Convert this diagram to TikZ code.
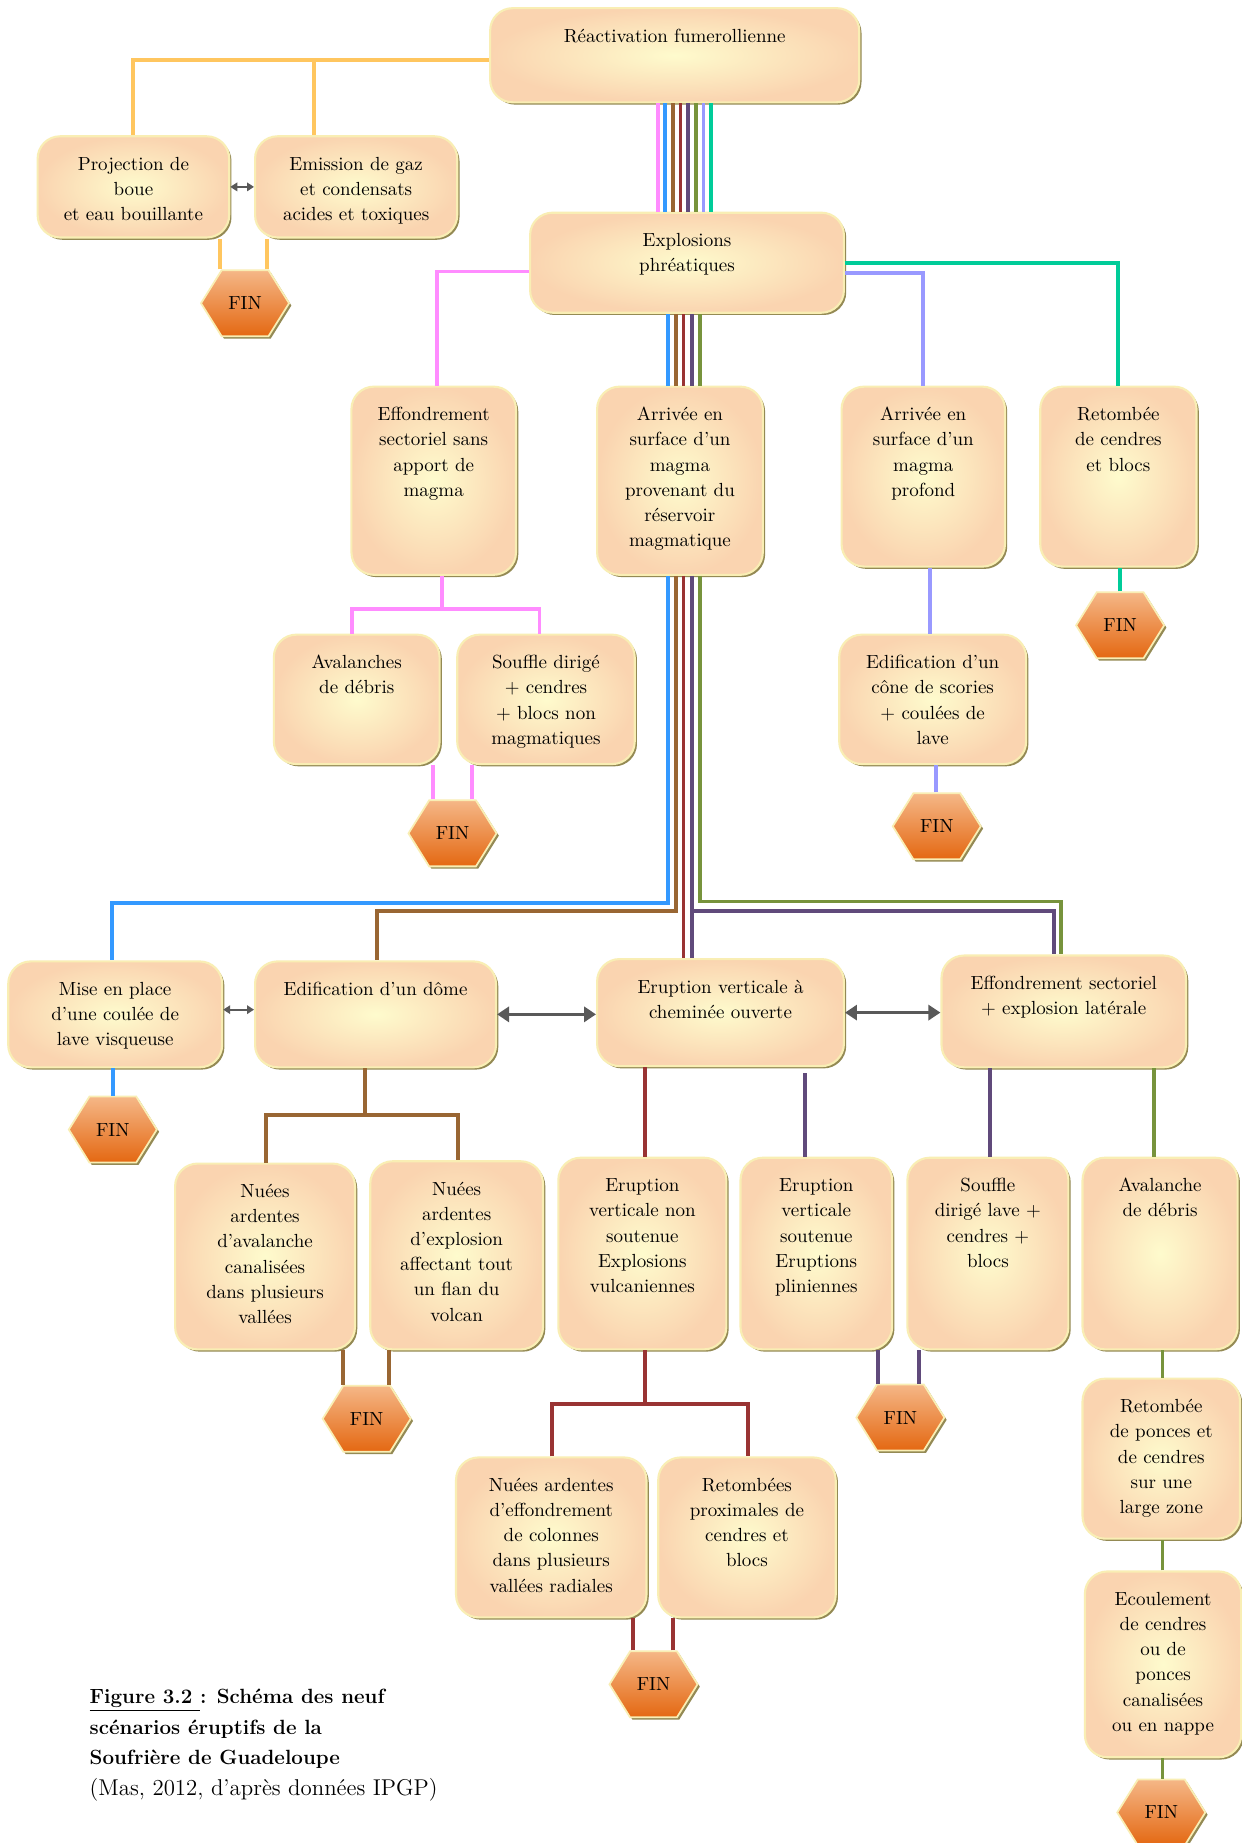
\documentclass[tikz,border=0pt]{standalone}
\usepackage{tikz}
\usetikzlibrary{calc,positioning,shapes.symbols,shadows,arrows.meta}
\tikzset{>=Stealth}
\definecolor{boxin}{RGB}{254,251,205}
\definecolor{boxout}{RGB}{250,212,176}
\definecolor{boxrim}{RGB}{249,238,180}
\definecolor{boxshade}{RGB}{148,138,84}
\definecolor{fintop}{RGB}{245,183,135}
\definecolor{finbot}{RGB}{228,104,18}
\definecolor{orgc}{RGB}{255,198,95}
\definecolor{pinkc}{RGB}{255,140,255}
\definecolor{bluec}{RGB}{51,153,255}
\definecolor{brownc}{RGB}{153,102,51}
\definecolor{redc}{RGB}{153,51,51}
\definecolor{purc}{RGB}{96,74,123}
\definecolor{olivec}{RGB}{119,147,60}
\definecolor{lavc}{RGB}{153,153,255}
\definecolor{tealc}{RGB}{0,204,153}
\definecolor{arrgray}{RGB}{89,89,89}
\newdimen\diagu \diagu=0.0235cm
\tikzset{
  stepbox/.style 2 args={draw=boxrim, line width=1.2pt, rounded corners=0.45cm,
    inner color=boxin, outer color=boxout,
    drop shadow={shadow xshift=1.3pt, shadow yshift=-1.3pt, fill=boxshade, opacity=1},
    inner xsep=0pt, inner ysep=0.33cm,
    minimum width={#1*0.0235cm}, minimum height={#2*0.0235cm},
    font=\fontsize{10.8}{14.3}\selectfont,
    execute at begin node={\begin{minipage}[t][\dimexpr#2\diagu-28\diagu\relax][t]{\dimexpr#1\diagu-8pt\relax}\centering\strut},
    execute at end node={\end{minipage}}},
  finhex/.style={shape=signal, signal to=west and east, signal pointer angle=116,
    minimum width=1.76cm, minimum height=1.32cm, inner sep=0pt,
    top color=fintop, bottom color=finbot, draw=boxrim, line width=1pt,
    drop shadow={shadow xshift=1.3pt, shadow yshift=-1.3pt, fill=boxshade, opacity=1},
    font=\fontsize{10.8}{13}\selectfont},
  link/.style={line width=2.2pt},
  dblarrow/.style={arrgray, line width=1.9pt, {Triangle[length=0.24cm,width=0.3cm]}-{Triangle[length=0.24cm,width=0.3cm]}},
  smallarrow/.style={arrgray, line width=1.3pt, {Triangle[length=0.14cm,width=0.17cm]}-{Triangle[length=0.14cm,width=0.17cm]}}
}
\begin{document}
\begin{tikzpicture}[x=0.0235cm, y=-0.0235cm]
\path[use as bounding box, fill=white] (0,0) rectangle (1056,1568);

\node[stepbox={314}{80}] (R) at (574,47) {Réactivation fumerollienne};
\node[stepbox={163}{86}] (P) at (113.5,159) {Projection de\\boue\\et eau bouillante};
\node[stepbox={172}{86}] (E) at (303,159) {Emission de gaz\\et condensats\\acides et toxiques};
\node[stepbox={267}{85}] (X) at (584.5,223.5) {Explosions\\phréatiques};
\node[stepbox={140}{160}] (EF) at (369,409) {Effondrement\\sectoriel sans\\apport de\\magma};
\node[stepbox={141}{160}] (AM) at (578.5,409) {Arrivée en\\surface d’un\\magma\\provenant du\\réservoir\\magmatique};
\node[stepbox={139}{153}] (AP) at (785.5,405.5) {Arrivée en\\surface d’un\\magma\\profond};
\node[stepbox={133}{153}] (RC) at (951.5,405.5) {Retombée\\de cendres\\et blocs};
\node[stepbox={141}{110}] (AV) at (303.5,595) {Avalanches\\de débris};
\node[stepbox={151}{110}] (SD) at (464.5,595) {Souffle dirigé\\+ cendres\\+ blocs non\\magmatiques};
\node[stepbox={159}{110}] (ED) at (793.5,595) {Edification d’un\\cône de scories\\+ coulées de\\lave};
\node[stepbox={182}{90}] (MP) at (98,863) {Mise en place\\d’une coulée de\\lave visqueuse};
\node[stepbox={205}{90}] (DO) at (319.5,863) {Edification d’un dôme};
\node[stepbox={210}{91}] (EV) at (613,861.5) {Eruption verticale à\\cheminée ouverte};
\node[stepbox={208}{95}] (ES) at (905,860.5) {Effondrement sectoriel\\+ explosion latérale};
\node[stepbox={153}{158}] (NA) at (225.5,1069) {Nuées\\ardentes\\d’avalanche\\canalisées\\dans plusieurs\\vallées};
\node[stepbox={147}{160}] (NE) at (388.5,1068) {Nuées\\ardentes\\d’explosion\\affectant tout\\un flan du\\volcan};
\node[stepbox={143}{163}] (EN) at (546.5,1066.5) {Eruption\\verticale non\\soutenue\\Explosions\\vulcaniennes};
\node[stepbox={129}{163}] (SO) at (694.5,1066.5) {Eruption\\verticale\\soutenue\\Eruptions\\pliniennes};
\node[stepbox={137}{163}] (SF) at (840.5,1066.5) {Souffle\\dirigé lave +\\cendres +\\blocs};
\node[stepbox={132}{163}] (AD) at (987,1066.5) {Avalanche\\de débris};
\node[stepbox={162}{136}] (NC) at (469,1308) {Nuées ardentes\\d’effondrement\\de colonnes\\dans plusieurs\\vallées radiales};
\node[stepbox={151}{136}] (RP) at (635.5,1308) {Retombées\\proximales de\\cendres et\\blocs};
\node[stepbox={134}{136}] (RZ) at (988,1241) {Retombée\\de ponces et\\de cendres\\sur une\\large zone};
\node[stepbox={133}{158}] (EC) at (989.5,1416) {Ecoulement\\de cendres\\ou de\\ponces\\canalisées\\ou en nappe};

\node[finhex] (F1) at (208.5,258) {FIN};
\node[finhex] (F2) at (953,532) {FIN};
\node[finhex] (F3) at (385,709) {FIN};
\node[finhex] (F4) at (797,703) {FIN};
\node[finhex] (F5) at (96,961) {FIN};
\node[finhex] (F6) at (312,1207) {FIN};
\node[finhex] (F7) at (766,1206) {FIN};
\node[finhex] (F8) at (556,1433) {FIN};
\node[finhex] (F9) at (988,1542) {FIN};

\draw[link, orgc] ($(R.west)+(0,4)$) -| (P.north);
\draw[link, orgc] ($(E.north)+(-36,0)$) |- ($(R.west)+(0,4)$);
\draw[link, orgc] ($(F1.north)+(-21,0)$) -- ($(F1.north |- P.south)+(-21,0)$);
\draw[link, orgc] ($(F1.north)+(19,0)$) -- ($(F1.north |- E.south)+(19,0)$);
\draw[smallarrow] (P.east) -- (E.west);

\foreach \col [count=\k from 0] in {pinkc,bluec,brownc,redc,purc,olivec,lavc,tealc}
  \draw[link, \col] ($(R.south)+(-14.5+6.5*\k,0)$) -- ($(R.south |- X.north)+(-14.5+6.5*\k,0)$);
\foreach \col/\dx in {bluec/-10,brownc/-3.5,redc/3,purc/10,olivec/17}
  \draw[link, \col] ($(AM.north)+(\dx,0)$) -- ($(AM.north |- X.south)+(\dx,0)$);

\draw[link, pinkc] ($(X.west)+(0,7.5)$) -| ($(EF.north)+(3,0)$);
\draw[link, lavc] ($(X.east)+(0,8.5)$) -| (AP.north);
\draw[link, tealc] (X.east) -| (RC.north);

\draw[link, pinkc] ($(EF.south)+(7,0)$) -- ++(0,30);
\draw[link, pinkc] ($(AV.north)+(-4,0)$) -- ++(0,-21) -| ($(SD.north)+(-5.5,0)$);
\draw[link, pinkc] ($(F3.north)+(-16.5,0)$) -- ($(F3.north |- AV.south)+(-16.5,0)$);
\draw[link, pinkc] ($(F3.north)+(16.5,0)$) -- ($(F3.north |- SD.south)+(16.5,0)$);
\draw[link, lavc] ($(ED.north)+(-2.5,0)$) -- ($(ED.north |- AP.south)+(-2.5,0)$);
\draw[link, lavc] ($(F4.north)+(-1,0)$) -- ($(F4.north |- ED.south)+(-1,0)$);
\draw[link, tealc] (F2.north) -- (F2.north |- RC.south);

\draw[link, bluec] ($(AM.south)+(-10,0)$) -- ++(0,278) -| ($(MP.north)+(-3,0)$);
\draw[link, brownc] ($(AM.south)+(-3.5,0)$) -- ++(0,285) -| ($(DO.north)+(1.5,0)$);
\draw[link, redc] ($(AM.south)+(3,0)$) -- ($(AM.south |- EV.north)+(3,0)$);
\draw[link, purc] ($(AM.south)+(10,0)$) -- ($(AM.south |- EV.north)+(10,0)$);
\draw[link, purc] ($(AM.south)+(10,285)$) -| ($(ES.north)+(-8,0)$);
\draw[link, olivec] ($(AM.south)+(17,0)$) -- ++(0,277) -| ($(ES.north)+(-2,0)$);

\draw[smallarrow] ($(MP.east)+(0,-4)$) -- ($(MP.east -| DO.west)+(0,-4)$);
\draw[dblarrow] (DO.east) -- (DO.east -| EV.west);
\draw[dblarrow] (EV.east) -- (EV.east -| ES.west);

\draw[link, bluec] (F5.north) -- (F5.north |- MP.south);
\draw[link, brownc] ($(DO.south)+(-9,0)$) -- ++(0,41.5);
\draw[link, brownc] ($(NA.north)+(0.5,0)$) -- ++(0,-40.5) -| ($(NE.north)+(1.5,0)$);
\draw[link, brownc] ($(F6.north)+(-20,0)$) -- ($(F6.north |- NA.south)+(-20,0)$);
\draw[link, brownc] ($(F6.north)+(19,0)$) -- ($(F6.north |- NE.south)+(19,0)$);
\draw[link, redc] ($(EN.north)+(2.5,0)$) -- ($(EN.north |- EV.south)+(2.5,0)$);
\draw[link, purc] ($(SO.north)+(-9.5,0)$) -- ($(SO.north |- EV.south)+(-9.5,5)$);
\draw[link, purc] ($(SF.north)+(2,0)$) -- ($(SF.north |- ES.south)+(2,0)$);
\draw[link, olivec] ($(AD.north)+(-5,0)$) -- ($(AD.north |- ES.south)+(-5,0)$);
\draw[link, purc] ($(F7.north)+(-19,0)$) -- ($(F7.north |- SO.south)+(-19,0)$);
\draw[link, purc] ($(F7.north)+(16,0)$) -- ($(F7.north |- SF.south)+(16,0)$);
\draw[link, redc] ($(EN.south)+(2.5,0)$) -- ++(0,47.5);
\draw[link, redc] ($(NC.north)+(0.5,0)$) -- ++(0,-44.5) -| ($(RP.north)+(1,0)$);
\draw[link, redc] ($(F8.north)+(-17.5,0)$) -- ($(F8.north |- NC.south)+(-17.5,0)$);
\draw[link, redc] ($(F8.north)+(16.5,0)$) -- ($(F8.north |- RP.south)+(16.5,0)$);
\draw[link, olivec] ($(RZ.north)+(1,0)$) -- ($(RZ.north |- AD.south)+(1,0)$);
\draw[link, olivec] ($(EC.north)+(-0.5,0)$) -- ($(EC.north |- RZ.south)+(-0.5,0)$);
\draw[link, olivec] ($(F9.north)+(1,0)$) -- ($(F9.north |- EC.south)+(1,0)$);

\node[anchor=north west, align=left, inner sep=0pt, font=\fontsize{11.7}{17.3}\selectfont] (cap) at (76,1437)
  {\textbf{\underline{Figure 3.2 }: Schéma des neuf}\\\textbf{scénarios éruptifs de la}\\\textbf{Soufrière de Guadeloupe}\\{\fontsize{13}{17.3}\selectfont(Mas, 2012, d’après données IPGP)}};
\end{tikzpicture}
\end{document}
